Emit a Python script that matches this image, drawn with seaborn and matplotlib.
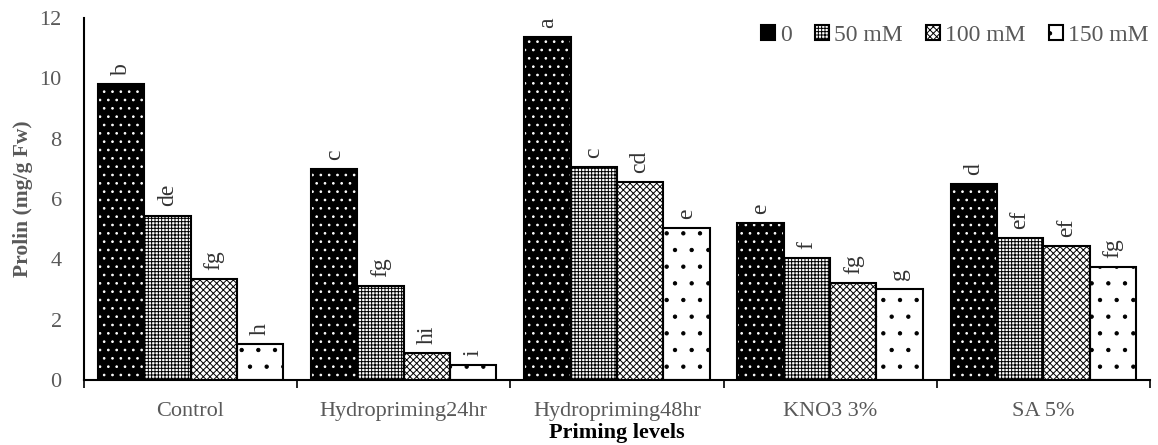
import matplotlib
matplotlib.use("Agg")
import matplotlib.pyplot as plt
from matplotlib.patches import Rectangle
import seaborn as sns
import numpy as np
import pandas as pd

categories = ["Control", "Hydropriming24hr", "Hydropriming48hr", "KNO3 3%", "SA 5%"]
levels = ["0", "50 mM", "100 mM", "150 mM"]
values = {
    "0": [9.8, 7.0, 11.35, 5.2, 6.5],
    "50 mM": [5.45, 3.1, 7.05, 4.05, 4.7],
    "100 mM": [3.35, 0.9, 6.55, 3.2, 4.45],
    "150 mM": [1.2, 0.5, 5.05, 3.0, 3.75],
}
letters = {
    "0": ["b", "c", "a", "e", "d"],
    "50 mM": ["de", "fg", "c", "f", "ef"],
    "100 mM": ["fg", "hi", "cd", "fg", "ef"],
    "150 mM": ["h", "i", "e", "g", "fg"],
}

rows = []
for lv in levels:
    for c, v in zip(categories, values[lv]):
        rows.append({"Priming": c, "Level": lv, "Prolin": v})
df = pd.DataFrame(rows)

sns.set_style("white")
plt.rcParams['font.family'] = ['Liberation Serif', 'DejaVu Serif']
plt.rcParams['hatch.linewidth'] = 0.7

grey = "#595959"

fig, ax = plt.subplots(figsize=(11.58, 4.45), dpi=100)
fig.subplots_adjust(left=0.0725, right=0.993, bottom=0.146, top=0.96)

sns.barplot(data=df, x="Priming", y="Prolin", hue="Level", order=categories,
            hue_order=levels, width=0.87, ax=ax, legend=False, errorbar=None)

faces = ["black", "white", "white", "white"]
hatches = ["..", "+++++", "xxxxx", "."]
hcol = ["white", "black", "black", "black"]

for i, lv in enumerate(levels):
    cont = ax.containers[i]
    for j, p in enumerate(cont.patches):
        p.set_facecolor(faces[i])
        p.set_hatch(hatches[i])
        p.set_edgecolor(hcol[i])
        p.set_linewidth(0)
        x0, y0 = p.get_x(), p.get_y()
        w, h = p.get_width(), p.get_height()
        ax.add_patch(Rectangle((x0, y0), w, h, fill=False, edgecolor="black", linewidth=1.5, zorder=3))
        ax.text(x0 + w / 2, h + 0.3, letters[lv][j], rotation=90, ha="center", va="bottom",
                fontsize=17, color="#333333")
    # legend proxy
    ax.bar(np.nan, np.nan, color=faces[i], hatch=hatches[i], edgecolor=hcol[i], linewidth=0, label=lv)

handles, labs = ax.get_legend_handles_labels()
leg = ax.legend(handles, labs, loc="upper right", ncol=4, frameon=False, fontsize=17,
                handlelength=0.6, handleheight=0.6, handletextpad=0.2, columnspacing=1.0,
                bbox_to_anchor=(1.012, 1.02), labelcolor=grey, borderaxespad=0.2)
for h in leg.legend_handles:
    h.set_edgecolor("black")
    h.set_linewidth(1.5)

ax.set_ylim(0, 12)
ax.set_xlim(-0.5, 4.5)
ax.set_yticks(np.arange(0, 13, 2))
ax.set_xticks(np.arange(-0.5, 5, 1), minor=True)
ax.tick_params(axis="x", which="major", length=0, labelsize=16, labelcolor=grey, pad=16)
ax.tick_params(axis="x", which="minor", length=6, width=1.2, color="black", direction="out", bottom=True)
ax.tick_params(axis="y", length=0, labelsize=16, labelcolor=grey, pad=16)

for s in ["top", "right"]:
    ax.spines[s].set_visible(False)
for s in ["left", "bottom"]:
    ax.spines[s].set_color("black")
    ax.spines[s].set_linewidth(1.5)

ax.set_ylabel("Prolin (mg/g Fw)", fontsize=15.5, fontweight="bold", color=grey, labelpad=5)
ax.set_xlabel("Priming levels", fontsize=16, fontweight="bold", color="black", labelpad=1)

fig.savefig("out.png", dpi=100)
